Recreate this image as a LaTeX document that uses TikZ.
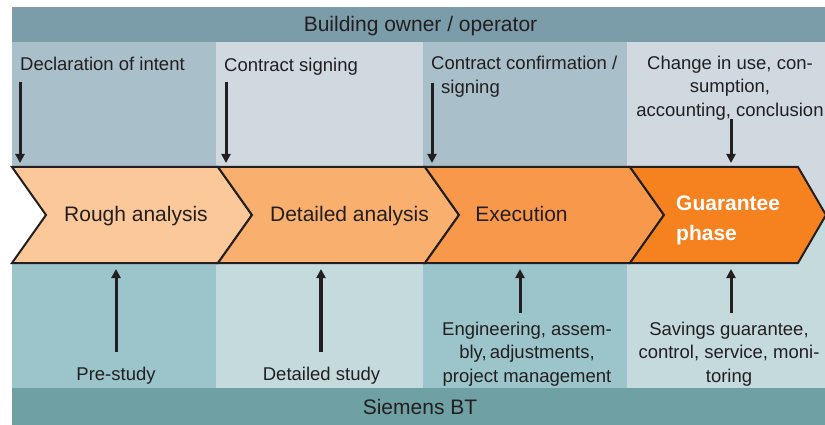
\documentclass[tikz,border=0pt]{standalone}
\usepackage{fontspec}
\setmainfont{Liberation Sans}
\usetikzlibrary{arrows.meta}
\definecolor{hdr}{HTML}{7B9CA9}
\definecolor{upA}{HTML}{A9BFCA}
\definecolor{upB}{HTML}{D1D9E0}
\definecolor{loA}{HTML}{9BC5CB}
\definecolor{loB}{HTML}{C5DADD}
\definecolor{ftr}{HTML}{6EA0A4}
\definecolor{chA}{HTML}{FBC89A}
\definecolor{chB}{HTML}{F9AF6E}
\definecolor{chC}{HTML}{F7984A}
\definecolor{chD}{HTML}{F5821F}
\definecolor{ink}{HTML}{231F20}
\tikzset{
  lbl/.style={inner sep=0pt, text=ink, font=\fontsize{18.5}{23.5}\selectfont},
  big/.style={inner sep=0pt, text=ink, font=\fontsize{21}{30}\selectfont},
  chev/.style={draw=ink, line width=2pt, line join=miter},
  arr/.style={draw=ink, line width=3pt, -{Triangle[width=9pt,length=9pt]}},
}
\begin{document}
\begin{tikzpicture}[x=1pt,y=-1pt]
\useasboundingbox (0,0) rectangle (825,425);
% bands
\fill[hdr] (12,7) rectangle (825,42);
\fill[upA] (12,42) rectangle (216,215);
\fill[upB] (216,42) rectangle (423,215);
\fill[upA] (423,42) rectangle (627,215);
\fill[upB] (627,42) rectangle (825,215);
\fill[loA] (12,215) rectangle (216,388);
\fill[loB] (216,215) rectangle (423,388);
\fill[loA] (423,215) rectangle (627,388);
\fill[loB] (627,215) rectangle (825,388);
\fill[ftr] (12,388) rectangle (825,425);
\fill[white] (11,166) -- (47,215) -- (11,264) -- cycle;
% chevrons
\filldraw[chev, fill=chA] (12,167) -- (218,167) -- (252,215) -- (218,263) -- (12,263) -- (46,215) -- cycle;
\filldraw[chev, fill=chB] (218,167) -- (425,167) -- (459,215) -- (425,263) -- (218,263) -- (252,215) -- cycle;
\filldraw[chev, fill=chC] (425,167) -- (630,167) -- (664,215) -- (630,263) -- (425,263) -- (459,215) -- cycle;
\filldraw[chev, fill=chD] (630,167) -- (798,167) -- (826,215) -- (798,263) -- (630,263) -- (664,215) -- cycle;
% header / footer
\node[big, anchor=base] (owner) at (420.5,32) {Building owner / operator};
\node[big, anchor=base] (siemens) at (420,414) {Siemens BT};
% chevron texts
\node[big, anchor=base] (rough) at (136,222) {Rough analysis};
\node[big, anchor=base] (detail) at (349.5,222) {Detailed analysis};
\node[big, anchor=base] (exec) at (521.5,222) {Execution};
\node[big, anchor=west, align=left, text=white, font=\fontsize{21}{30}\selectfont\bfseries] (guar) at (676,220) {Guarantee\\phase};
% upper labels
\node[lbl, anchor=base west] (decl) at (20,71) {Declaration of intent};
\node[lbl, anchor=base west] (sign) at (224,72) {Contract signing};
\node[lbl, anchor=base west] (conf) at (431,70) {Contract confirmation /};
\node[lbl, anchor=base west] (conf2) at (441,93.5) {signing};
\node[lbl, align=center] (change) at (730,88) {Change in use, con-\\sumption,\\accounting, conclusion};
% lower labels
\node[lbl, anchor=base] (pre) at (116,380) {Pre-study};
\node[lbl, anchor=base] (dstudy) at (321.5,380) {Detailed study};
\node[lbl, align=center] (eng) at (527,354) {Engineering, assem-\\bly,\,adjustments,\\project management};
\node[lbl, align=center] (sav) at (729,354) {Savings guarantee,\\control, service, moni-\\toring};
% arrow coordinates
\coordinate (d1s) at (20,82);  \coordinate (d1e) at (20,163);
\coordinate (d2s) at (226,82); \coordinate (d2e) at (226,163);
\coordinate (d3s) at (432,83); \coordinate (d3e) at (432,163);
\coordinate (d4s) at (731,119); \coordinate (d4e) at (731,163);
\coordinate (u1s) at (116,352); \coordinate (u1e) at (116,269);
\coordinate (u2s) at (321,352); \coordinate (u2e) at (321,269);
\coordinate (u3s) at (520,313); \coordinate (u3e) at (520,269);
\coordinate (u4s) at (731,313); \coordinate (u4e) at (731,269);
\draw[arr] (d1s) -- (d1e);
\draw[arr] (d2s) -- (d2e);
\draw[arr] (d3s) -- (d3e);
\draw[arr] (d4s) -- (d4e);
\draw[arr] (u1s) -- (u1e);
\draw[arr, line width=3.5pt] (u2s) -- (u2e);
\draw[arr] (u3s) -- (u3e);
\draw[arr] (u4s) -- (u4e);
\end{tikzpicture}
\end{document}
